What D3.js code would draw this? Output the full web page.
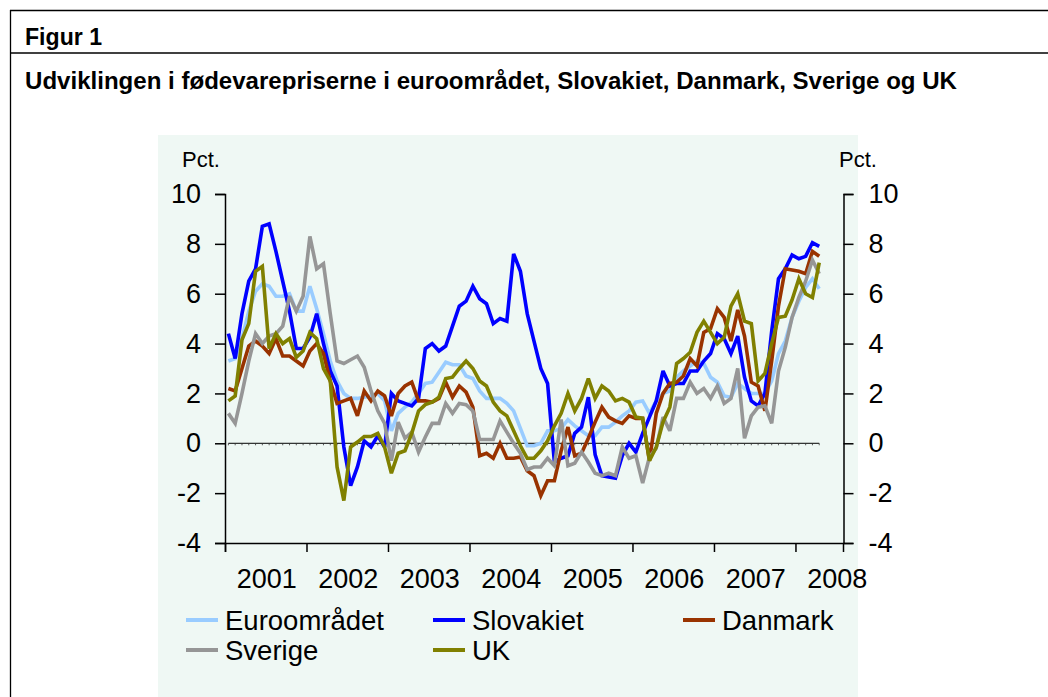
<!DOCTYPE html>
<html><head><meta charset="utf-8">
<script src="https://cdn.jsdelivr.net/npm/d3@7"></script>
<style>body{margin:0;background:#fff;}svg{display:block;font-family:"Liberation Sans",Arial,sans-serif;}</style>
</head><body><svg id="c" width="1048" height="697"></svg>
<script>
const years = ["2001","2002","2003","2004","2005","2006","2007","2008"];
const yTicks = [-4,-2,0,2,4,6,8,10];
const seriesNames = ["Euroområdet","Slovakiet","Danmark","Sverige","UK"];
const seriesColors = ["#99ccff","#0000ff","#993300","#969696","#808000"];
// monthly, Jan 2001 - Apr 2008
const euro = [3.3,3.4,4.2,5.3,6.1,6.4,6.3,5.9,5.9,6.0,5.3,5.3,6.3,5.4,4.4,3.3,2.5,2.0,1.8,1.8,1.85,1.9,2.0,1.7,
  0.5,1.2,1.45,1.65,2.0,2.4,2.45,2.85,3.25,3.15,3.15,2.7,2.6,2.1,1.8,1.8,1.8,1.6,1.3,0.6,-0.1,-0.1,0.0,0.5,
  0.5,0.6,0.95,0.7,0.5,0.3,0.3,0.65,0.65,0.85,1.1,1.3,1.65,1.7,1.2,1.7,2.0,2.1,2.65,2.9,3.1,3.3,3.2,2.65,
  2.45,1.9,1.85,2.4,2.2,2.0,2.0,2.0,2.5,3.6,4.1,5.05,5.7,6.25,6.6,6.2];
const slovakiet = [4.4,3.4,5.2,6.5,7.0,8.7,8.8,7.7,6.5,5.3,3.8,3.8,4.25,5.2,4.0,2.9,2.3,-0.15,-1.7,-0.95,0.1,-0.15,0.3,-0.15,
  2.0,1.7,1.6,1.5,1.8,3.8,4.0,3.7,3.9,4.7,5.5,5.7,6.3,5.8,5.6,4.8,5.0,4.9,7.6,6.9,5.2,4.1,3.0,2.4,
  -0.75,-0.6,-0.5,0.4,0.65,1.85,-0.45,-1.3,-1.35,-1.4,-0.5,0.0,-0.35,0.4,1.05,1.7,2.9,2.3,2.4,2.4,2.9,2.9,3.3,3.6,
  4.4,4.2,3.6,4.3,2.65,1.7,1.5,2.0,4.5,6.6,7.0,7.55,7.4,7.5,8.05,7.9];
const danmark = [2.2,2.1,3.0,3.9,4.1,3.9,3.6,4.2,3.5,3.5,3.3,3.1,3.7,4.0,3.6,2.5,1.6,1.7,1.8,1.1,2.1,1.7,2.1,1.9,
  1.1,2.0,2.3,2.45,1.7,1.7,1.65,1.8,2.45,1.85,2.3,2.05,1.45,-0.5,-0.4,-0.6,0.0,-0.6,-0.6,-0.55,-1.1,-1.3,-2.1,-1.5,
  -1.5,-0.3,0.65,-0.5,-0.4,0.2,0.85,1.45,1.05,0.9,0.8,1.1,1.0,1.0,-0.7,1.2,2.0,2.4,2.45,2.7,3.4,3.1,4.45,4.6,
  5.4,5.05,4.1,5.35,4.3,2.45,2.3,1.3,3.3,5.5,7.0,6.95,6.9,6.8,7.7,7.5];
const sverige = [1.2,0.8,2.0,3.3,4.4,4.0,4.3,4.4,4.7,5.9,5.3,5.9,8.3,7.0,7.2,5.2,3.3,3.2,3.35,3.5,3.05,2.1,1.3,0.8,
  -0.7,0.85,0.2,0.45,-0.35,0.25,0.8,0.8,1.6,1.2,1.6,1.55,1.3,0.15,0.15,0.15,0.9,0.45,0.0,-0.4,-1.05,-0.95,-0.95,-0.6,
  -0.9,0.95,-0.9,-0.8,-0.35,-0.75,-1.2,-1.3,-1.2,-1.3,-0.15,-0.6,-0.5,-1.6,-0.55,-0.2,1.05,0.5,1.8,1.8,2.45,2.0,2.2,1.8,
  2.3,1.6,1.8,3.0,0.2,1.1,1.45,1.5,0.8,2.9,3.85,5.05,5.85,6.5,7.35,6.8];
const uk = [1.7,1.9,4.15,4.8,6.9,7.1,3.8,4.4,4.0,4.2,3.45,3.7,4.45,4.2,3.0,2.5,-0.95,-2.3,-0.15,0.05,0.27,0.27,0.4,-0.15,
  -1.2,-0.4,-0.3,0.4,1.3,1.55,1.65,1.85,2.6,2.65,3.0,3.3,3.0,2.5,2.3,1.65,1.3,1.1,0.5,-0.1,-0.6,-0.6,-0.3,0.1,
  0.7,1.2,2.0,1.3,1.8,2.6,1.8,2.3,2.1,1.7,1.8,1.65,1.05,1.0,-0.7,-0.15,0.85,1.45,3.2,3.4,3.65,4.45,4.9,4.45,
  4.0,4.25,5.5,6.0,4.9,4.8,2.5,2.8,4.0,5.05,5.1,5.75,6.6,6.0,5.85,7.25];
const seriesData = [euro, slovakiet, danmark, sverige, uk];

const svg = d3.select("#c");
const black = "#000";

// frame
svg.append("line").attr("x1",10.5).attr("x2",10.5).attr("y1",10).attr("y2",697).attr("stroke",black).attr("stroke-width",1.3);
svg.append("line").attr("x1",10).attr("x2",1048).attr("y1",10.5).attr("y2",10.5).attr("stroke",black).attr("stroke-width",1.3);
svg.append("line").attr("x1",10).attr("x2",1048).attr("y1",53).attr("y2",53).attr("stroke",black).attr("stroke-width",1.3);
svg.append("text").attr("x",25).attr("y",45).attr("font-size",23).attr("font-weight","bold")
  .attr("textLength",77).attr("lengthAdjust","spacingAndGlyphs").text("Figur 1");
svg.append("text").attr("x",25).attr("y",89).attr("font-size",23).attr("font-weight","bold")
  .attr("textLength",932).attr("lengthAdjust","spacingAndGlyphs")
  .text("Udviklingen i fødevarepriserne i euroområdet, Slovakiet, Danmark, Sverige og UK");

// plot background
svg.append("rect").attr("x",158).attr("y",135).attr("width",700).attr("height",562).attr("fill","#eff8f4");

const x = d3.scaleLinear().domain([0,91]).range([225,843]);
const y = d3.scaleLinear().domain([-4,10]).range([543,194]);
const fs = 27;

// y axes
const fmt = d => String(d);
const gl = svg.append("g").attr("transform","translate(225,0)")
  .call(d3.axisLeft(y).tickValues(yTicks).tickSize(10).tickPadding(14).tickFormat(fmt));
const gr = svg.append("g").attr("transform","translate(843.5,0)")
  .call(d3.axisRight(y).tickValues(yTicks).tickSize(10).tickPadding(15).tickFormat(fmt));
[gl,gr].forEach(g=>{
  g.select(".domain").attr("stroke",black).attr("stroke-width",1.5);
  g.selectAll(".tick line").attr("stroke",black).attr("stroke-width",1.5);
  g.selectAll("text").attr("font-size",fs).attr("font-family","Liberation Sans, Arial, sans-serif").attr("fill",black);
});
// bottom axis
const yearStarts = years.map((d,i)=>i*12);
const gb = svg.append("g").attr("transform","translate(0,543)")
  .call(d3.axisBottom(x).tickValues(yearStarts).tickSize(9).tickFormat(""));
gb.select(".domain").attr("stroke",black).attr("stroke-width",1.5);
gb.selectAll(".tick line").attr("stroke",black).attr("stroke-width",1.5);
svg.append("g").selectAll("text").data(years).join("text")
  .attr("x",(d,i)=>x(i*12+6)+1).attr("y",588).attr("text-anchor","middle")
  .attr("font-size",fs).attr("fill",black).text(d=>d);

// Pct labels
svg.append("text").attr("x",201).attr("y",167).attr("text-anchor","middle").attr("font-size",22).text("Pct.");
svg.append("text").attr("x",858).attr("y",167).attr("text-anchor","middle").attr("font-size",22).text("Pct.");

// zero line with small month ticks
const n = euro.length;
svg.append("line").attr("x1",x(0.5)).attr("x2",x(n-0.5)).attr("y1",y(0)).attr("y2",y(0)).attr("stroke",black).attr("stroke-width",1);
svg.append("g").selectAll("line").data(d3.range(n)).join("line")
  .attr("x1",d=>x(d+0.5)).attr("x2",d=>x(d+0.5)).attr("y1",y(0)).attr("y2",y(0)+2).attr("stroke","#333").attr("stroke-width",0.8);

// series
const line = d3.line().x((d,i)=>x(i+0.5)).y(d=>y(d));
seriesData.forEach((s,k)=>{
  svg.append("path").datum(s).attr("d",line).attr("fill","none")
    .attr("stroke",seriesColors[k]).attr("stroke-width",3.6).attr("stroke-linejoin","miter").attr("stroke-miterlimit",3);
});

// legend
const legendPos = [[186,620],[433,620],[683,620],[186,650],[433,650]];
seriesNames.forEach((name,k)=>{
  const [lx,ly] = legendPos[k];
  svg.append("line").attr("x1",lx).attr("x2",lx+32).attr("y1",ly).attr("y2",ly)
    .attr("stroke",seriesColors[k]).attr("stroke-width",4);
  svg.append("text").attr("x",lx+39).attr("y",ly+10).attr("font-size",27.5).attr("fill",black).text(name);
});
</script></body></html>
